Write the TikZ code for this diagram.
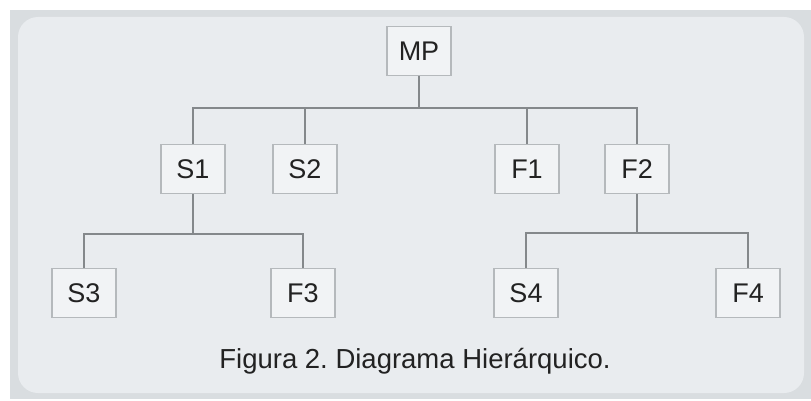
\documentclass[tikz,border=0pt]{standalone}
\usepackage{fontspec}
\setmainfont{Liberation Sans}
\definecolor{frameC}{HTML}{D9DDE0}
\definecolor{panelC}{HTML}{E9ECEF}
\definecolor{boxC}{HTML}{F1F3F5}
\definecolor{boxL}{HTML}{B5B9BC}
\definecolor{lineC}{HTML}{84888B}
\definecolor{txtC}{HTML}{222222}
\tikzstyle{bS}=[rectangle,minimum width = 64pt,minimum height = 49pt,inner sep = 0pt,draw=boxL,line width=1.6pt,fill=boxC,text=txtC,font=\fontsize{27}{32}\selectfont]
\tikzstyle{lS}=[line width=2.8pt,draw=lineC]
\tikzstyle{cS}=[text=txtC,font=\fontsize{27.5}{33}\selectfont]

\begin{document}
\begin{tikzpicture}[x=1pt,y=-1pt]
        \useasboundingbox (0,0) rectangle (811,401);
        % frame and panel
        \fill[frameC] (10,10) rectangle (811,399);
        \fill[panelC,rounded corners=20pt] (18,17) rectangle (804,393);
                \draw (419,51) node[bS] (mp) {MP};
                \draw (193,169) node[bS] (s1) {S1};
                \draw (305,169) node[bS] (s2) {S2};
                \draw (527,169) node[bS] (f1) {F1};
                \draw (637,169) node[bS] (f2) {F2};
                \draw (84,293) node[bS] (s3) {S3};
                \draw (303,293) node[bS] (f3) {F3};
                \draw (526,293) node[bS] (s4) {S4};
                \draw (748,293) node[bS] (f4) {F4};
                \coordinate (b0) at (419,108);
                \coordinate (b1) at (193,234);
                \coordinate (b2) at (637,233);
                % tree lines
                \draw[lS] (mp) -- (b0);
                \draw[lS] (b0) -| (s1);
                \draw[lS] (b0) -| (s2);
                \draw[lS] (b0) -| (f1);
                \draw[lS] (b0) -| (f2);
                \draw[lS] (s1) -- (b1);
                \draw[lS] (b1) -| (s3);
                \draw[lS] (b1) -| (f3);
                \draw[lS] (f2) -- (b2);
                \draw[lS] (b2) -| (s4);
                \draw[lS] (b2) -| (f4);
                \draw (415,361) node[cS] (cap) {\frenchspacing Figura 2. Diagrama Hierárquico.};
        \end{tikzpicture}
\end{document}
